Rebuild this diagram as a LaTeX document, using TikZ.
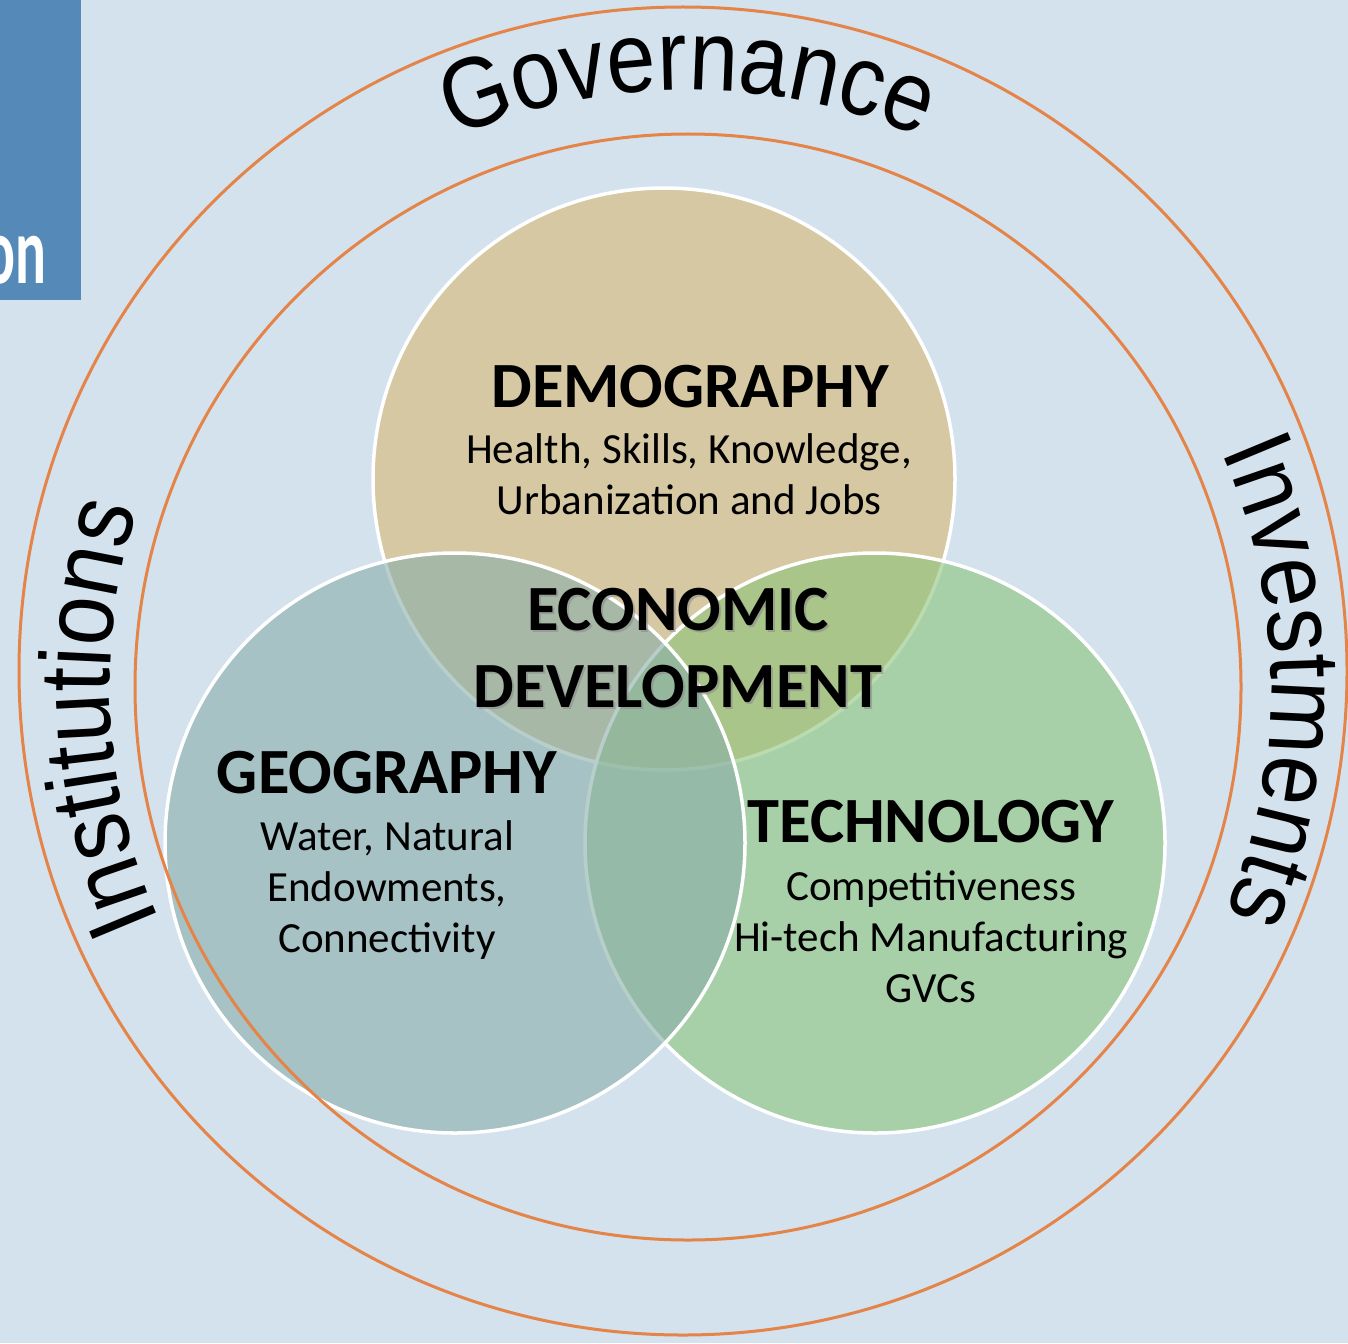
\documentclass[tikz,border=0pt]{standalone}
\usepackage{fontspec}
\setmainfont{Carlito}
\newfontfamily\curvefont[FakeStretch=0.88]{Liberation Sans}
\usetikzlibrary{decorations.text}

\definecolor{bgblue}{RGB}{212,226,237}
\definecolor{boxblue}{RGB}{84,137,184}
\definecolor{ringorange}{RGB}{228,132,72}
\definecolor{demotan}{RGB}{215,184,114}
\definecolor{geoteal}{RGB}{137,174,169}
\definecolor{techgreen}{RGB}{140,196,122}

\newcommand\ringfont{\curvefont\fontsize{100}{100}\selectfont}

\begin{document}
\begin{tikzpicture}[x=1pt, y=1pt,
    vcircle/.style={circle, draw=white, line width=3.5pt, fill opacity=0.6, minimum size=580, inner sep=0pt},
    ring/.style={circle, draw=ringorange, line width=3pt, inner sep=0pt},
    headtext/.style={font=\bfseries\fontsize{64.5}{77}\selectfont, anchor=base, align=center, inner sep=0pt},
    bodytext/.style={font=\fontsize{43}{51}\selectfont, anchor=base, align=center, inner sep=0pt}]
    % page
    \fill[bgblue] (0,0) rectangle (1348,-1343);
    \useasboundingbox (0,0) rectangle (1348,-1343);
    % title box, cut at the page edge
    \begin{scope}
        \clip (0,0) rectangle (81,-300);
        \fill[boxblue] (0,0) rectangle (81,-300);
        \node[anchor=base east, inner sep=0pt, text=white, font=\bfseries\fontsize{96}{96}\selectfont] (boxtext) at (47,-283) {\scalebox{0.6}[1]{on}};
    \end{scope}
    % the three factors
    \node[vcircle, fill=demotan, minimum size=582] (demo) at (664,-479) {};
    \node[vcircle, fill=techgreen] (tech) at (875,-843) {};
    \node[vcircle, fill=geoteal] (geo) at (455,-843) {};
    % rings
    \node[ring, minimum size=1328] (outer) at (683,-671) {};
    \node[ring, minimum size=1106] (inner) at (688,-687) {};
    % ring labels
    \path[decorate, decoration={text along path, text align=center, text={|\ringfont|Governance}}]
        (688,-687) ++(150:597) arc[start angle=150, end angle=30, radius=597];
    \path[decorate, decoration={text along path, text align=center, text={|\ringfont|Institutions}}]
        (688,-687) ++(243:578) arc[start angle=243, end angle=123, radius=578];
    \path[decorate, decoration={text along path, text align=center, text={|\ringfont|Investments}}]
        (688,-687) ++(60:583) arc[start angle=60, end angle=-59, radius=583];
    % texts (multi-line nodes sit on their last line)
    \node[headtext] (demohead) at (690,-407) {DEMOGRAPHY};
    \node[bodytext] (demobody) at (689,-514) {Health, Skills, Knowledge,\\Urbanization and Jobs};
    \node[headtext, text=black!45, opacity=0.6] (econshadow) at (680,-709) {ECONOMIC\\DEVELOPMENT};
    \node[headtext] (econ) at (678,-707) {ECONOMIC\\DEVELOPMENT};
    \node[headtext] (geohead) at (387,-793) {GEOGRAPHY};
    \node[bodytext] (geobody) at (387,-952) {Water, Natural\\Endowments,\\Connectivity};
    \node[headtext] (techhead) at (931,-842) {TECHNOLOGY};
    \node[bodytext] (techbody) at (931,-1002) {Competitiveness\\Hi-tech Manufacturing\\GVCs};
\end{tikzpicture}
\end{document}
